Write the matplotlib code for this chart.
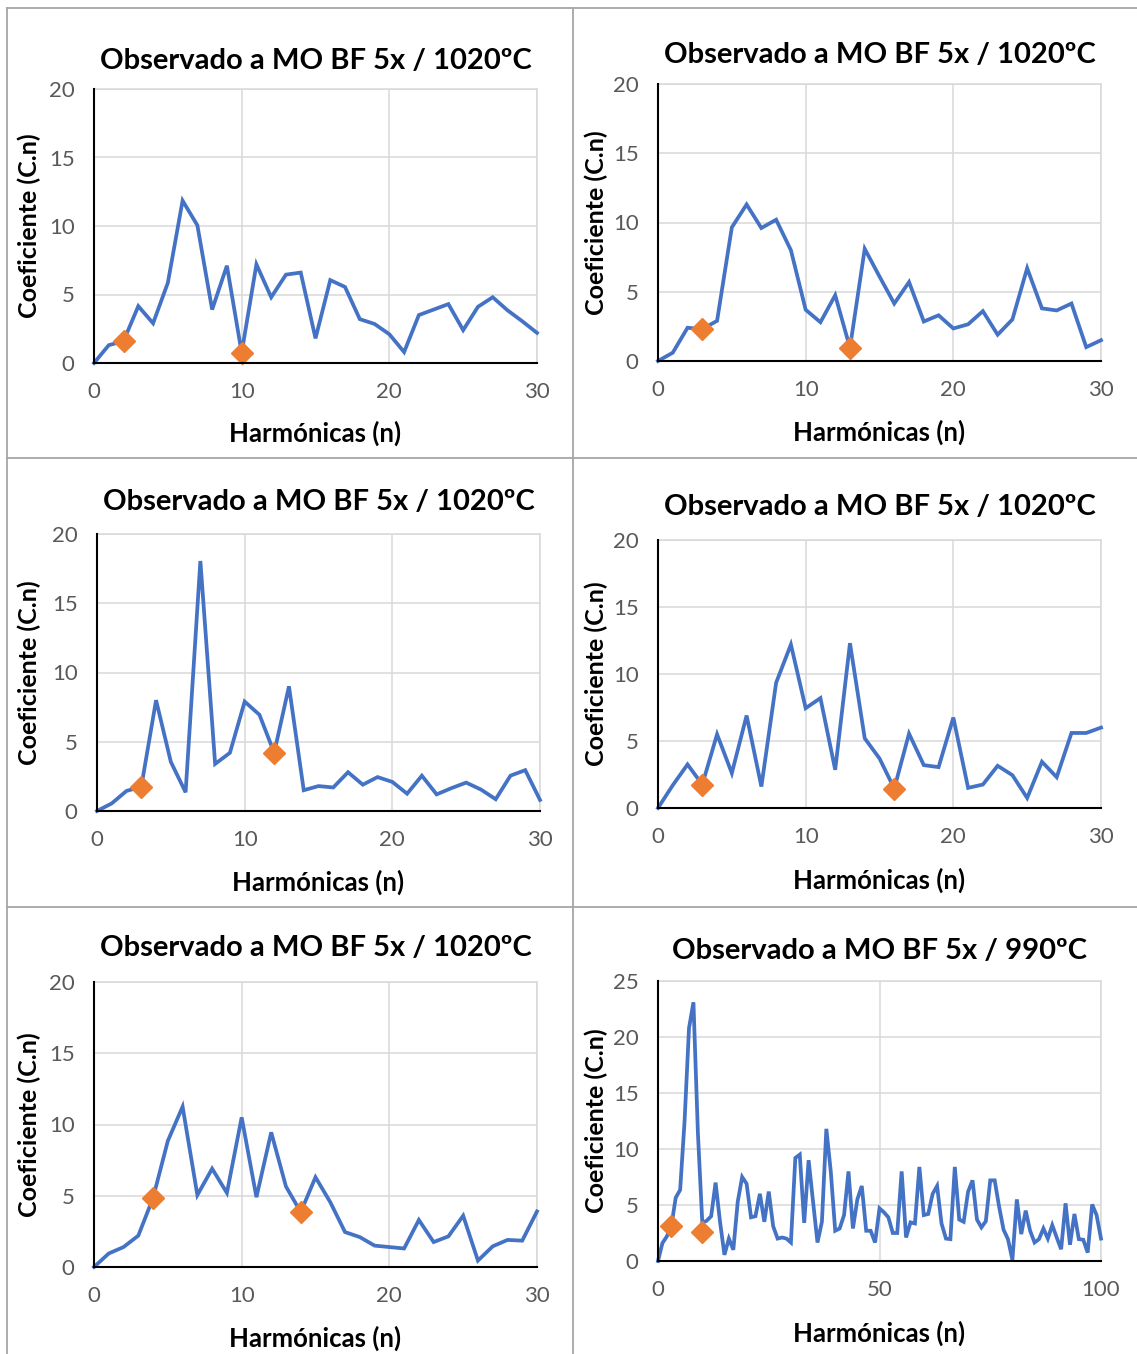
import matplotlib
matplotlib.use('Agg')
import matplotlib.pyplot as plt
from matplotlib.lines import Line2D

plt.rcParams['font.family'] = ['Lato', 'DejaVu Sans']

W, H = 1137, 1354

# --- Data ---
harm_30 = list(range(31))
harm_100 = list(range(101))

coef_1 = [0, 1.3, 1.6, 4.15, 2.9, 5.85, 11.85, 10.05, 3.9, 7.1, 0.75, 7.2, 4.8, 6.45,
          6.6, 1.8, 6.05, 5.55, 3.2, 2.85, 2.1, 0.8, 3.5, 3.9, 4.3, 2.4, 4.1, 4.8, 3.85,
          3.05, 2.2]
coef_2 = [0, 0.6, 2.4, 2.3, 2.9, 9.65, 11.3, 9.6, 10.2, 8.0, 3.7, 2.8, 4.75, 0.95, 8.1,
          6.1, 4.15, 5.7, 2.85, 3.3, 2.35, 2.65, 3.6, 1.9, 3.0, 6.7, 3.8, 3.65, 4.15, 1.0,
          1.5]
coef_3 = [0, 0.55, 1.45, 1.75, 8.0, 3.55, 1.35, 18.05, 3.4, 4.2, 7.9, 6.95, 4.2, 9.0,
          1.5, 1.8, 1.7, 2.8, 1.9, 2.45, 2.1, 1.25, 2.55, 1.2, 1.65, 2.05, 1.55, 0.85,
          2.55, 2.95, 0.8]
coef_4 = [0, 1.7, 3.25, 1.75, 5.5, 2.6, 6.9, 1.6, 9.35, 12.2, 7.45, 8.2, 2.85, 12.3,
          5.2, 3.7, 1.45, 5.55, 3.2, 3.05, 6.75, 1.5, 1.75, 3.15, 2.45, 0.75, 3.45, 2.3,
          5.6, 5.6, 6.0]
coef_5 = [0, 0.95, 1.4, 2.2, 4.85, 8.85, 11.25, 5.05, 6.9, 5.2, 10.5, 4.9, 9.45, 5.65,
          3.85, 6.3, 4.55, 2.45, 2.1, 1.5, 1.4, 1.3, 3.3, 1.75, 2.15, 3.6, 0.45, 1.45,
          1.9, 1.85, 3.9]
coef_6 = [0, 1.6, 2.2, 3.1, 5.65, 6.35, 12.5, 20.8, 23.1, 11.5, 3.4, 3.6, 4.0, 7.0, 3.5,
          0.55, 2.0, 1.0, 5.3, 7.5, 6.9, 3.9, 4.0, 6.0, 3.5, 6.2, 3.1, 2.0, 2.1, 2.0,
          1.65, 9.2, 9.5, 3.4, 9.0, 5.3, 1.65, 3.5, 11.8, 8.0, 2.7, 2.9, 4.1, 8.0, 2.9,
          5.5, 6.7, 2.7, 2.7, 1.65, 4.7, 4.35, 3.9, 2.5, 2.5, 8.0, 2.1, 3.45, 3.35, 8.4,
          4.1, 4.2, 6.0, 6.7, 3.35, 2.0, 1.95, 8.4, 3.7, 3.5, 6.2, 7.2, 3.7, 3.0, 3.55,
          7.2, 7.2, 4.85, 2.8, 1.95, 0.1, 5.5, 2.4, 4.5, 2.7, 1.65, 1.95, 2.9, 2.0, 3.2,
          2.1, 1.05, 5.15, 1.45, 4.2, 1.95, 1.9, 0.75, 5.05, 4.1, 2.0]

mark_x = [[2, 10], [3, 13], [3, 12], [3, 16], [4, 14], [3, 10]]
mark_y = [[1.6, 0.75], [2.3, 0.95], [1.75, 4.2], [1.75, 1.45], [4.85, 3.85], [3.15, 2.6]]

titles = ['Observado a MO BF 5x / 1020ºC'] * 5 + ['Observado a MO BF 5x / 990ºC']
x_label = 'Harmónicas (n)'
y_label = 'Coeficiente (C.n)'

# --- Layout (pixels): axes box, title y, xlabel y, ylabel x ---
layout = [
    ((94, 89, 537, 363), 61, 433, 29),
    ((658, 84, 1101, 361), 55, 432, 596),
    ((97, 534, 540, 811), 502, 882, 29),
    ((658, 540, 1101, 808), 507, 880, 596),
    ((94, 982, 537, 1267), 948, 1338, 29),
    ((658, 981, 1101, 1261), 951, 1333, 596),
]

series = [(harm_30, coef_1), (harm_30, coef_2), (harm_30, coef_3),
          (harm_30, coef_4), (harm_30, coef_5), (harm_100, coef_6)]

BLUE = '#4472C4'
ORANGE = '#ED7D31'
GRID = '#D9D9D9'
TICK = '#595959'

fig = plt.figure(figsize=(W / 100, H / 100), dpi=100)
fig.patch.set_facecolor('white')


def fx(px):
    return px / W


def fy(py):
    return 1 - py / H


for k, ((l, t, r, b), ty, xly, ylx) in enumerate(layout):
    ax = fig.add_axes([fx(l), fy(b), (r - l) / W, (b - t) / H])
    xs, ys = series[k]
    ax.plot(xs, ys, color=BLUE, lw=2.7, solid_joinstyle='miter', zorder=3, clip_on=False)
    ax.plot(mark_x[k], mark_y[k], linestyle='none', marker='D', ms=11,
            color=ORANGE, mec=ORANGE, zorder=4, clip_on=False)

    if k == 5:
        ax.set_xlim(0, 100)
        ax.set_xticks([0, 50, 100])
        ax.set_ylim(0, 25)
        ax.set_yticks([0, 5, 10, 15, 20, 25])
    else:
        ax.set_xlim(0, 30)
        ax.set_xticks([0, 10, 20, 30])
        ax.set_ylim(0, 20)
        ax.set_yticks([0, 5, 10, 15, 20])

    ax.grid(True, color=GRID, lw=1.1)
    ax.set_axisbelow(True)
    for side in ['top', 'right']:
        ax.spines[side].set_color(GRID)
        ax.spines[side].set_linewidth(1.1)
    for side in ['left', 'bottom']:
        ax.spines[side].set_color('black')
        ax.spines[side].set_linewidth(1.5)
        ax.spines[side].set_zorder(5)
    ax.tick_params(length=0, labelsize=16, labelcolor=TICK)
    ax.tick_params(axis='x', pad=14)
    ax.tick_params(axis='y', pad=14)

    fig.text(fx((l + r) / 2), fy(ty), titles[k], ha='center', va='center',
             fontsize=21, fontweight='bold', color='black')
    fig.text(fx((l + r) / 2), fy(xly), x_label, ha='center', va='center',
             fontsize=18.5, fontweight='bold', color='black')
    fig.text(fx(ylx), fy((t + b) / 2), y_label, ha='center', va='center',
             rotation=90, fontsize=18, fontweight='bold', color='black')

# panel borders like a table
border = dict(color='#A6A6A6', lw=1.3)
fig.add_artist(Line2D([fx(7), fx(7)], [fy(8), fy(H)], **border))
fig.add_artist(Line2D([fx(7), fx(W)], [fy(8), fy(8)], **border))
fig.add_artist(Line2D([fx(573), fx(573)], [fy(8), fy(H)], **border))
fig.add_artist(Line2D([fx(7), fx(W)], [fy(458), fy(458)], **border))
fig.add_artist(Line2D([fx(7), fx(W)], [fy(907), fy(907)], **border))

fig.savefig('out.png', dpi=100)
